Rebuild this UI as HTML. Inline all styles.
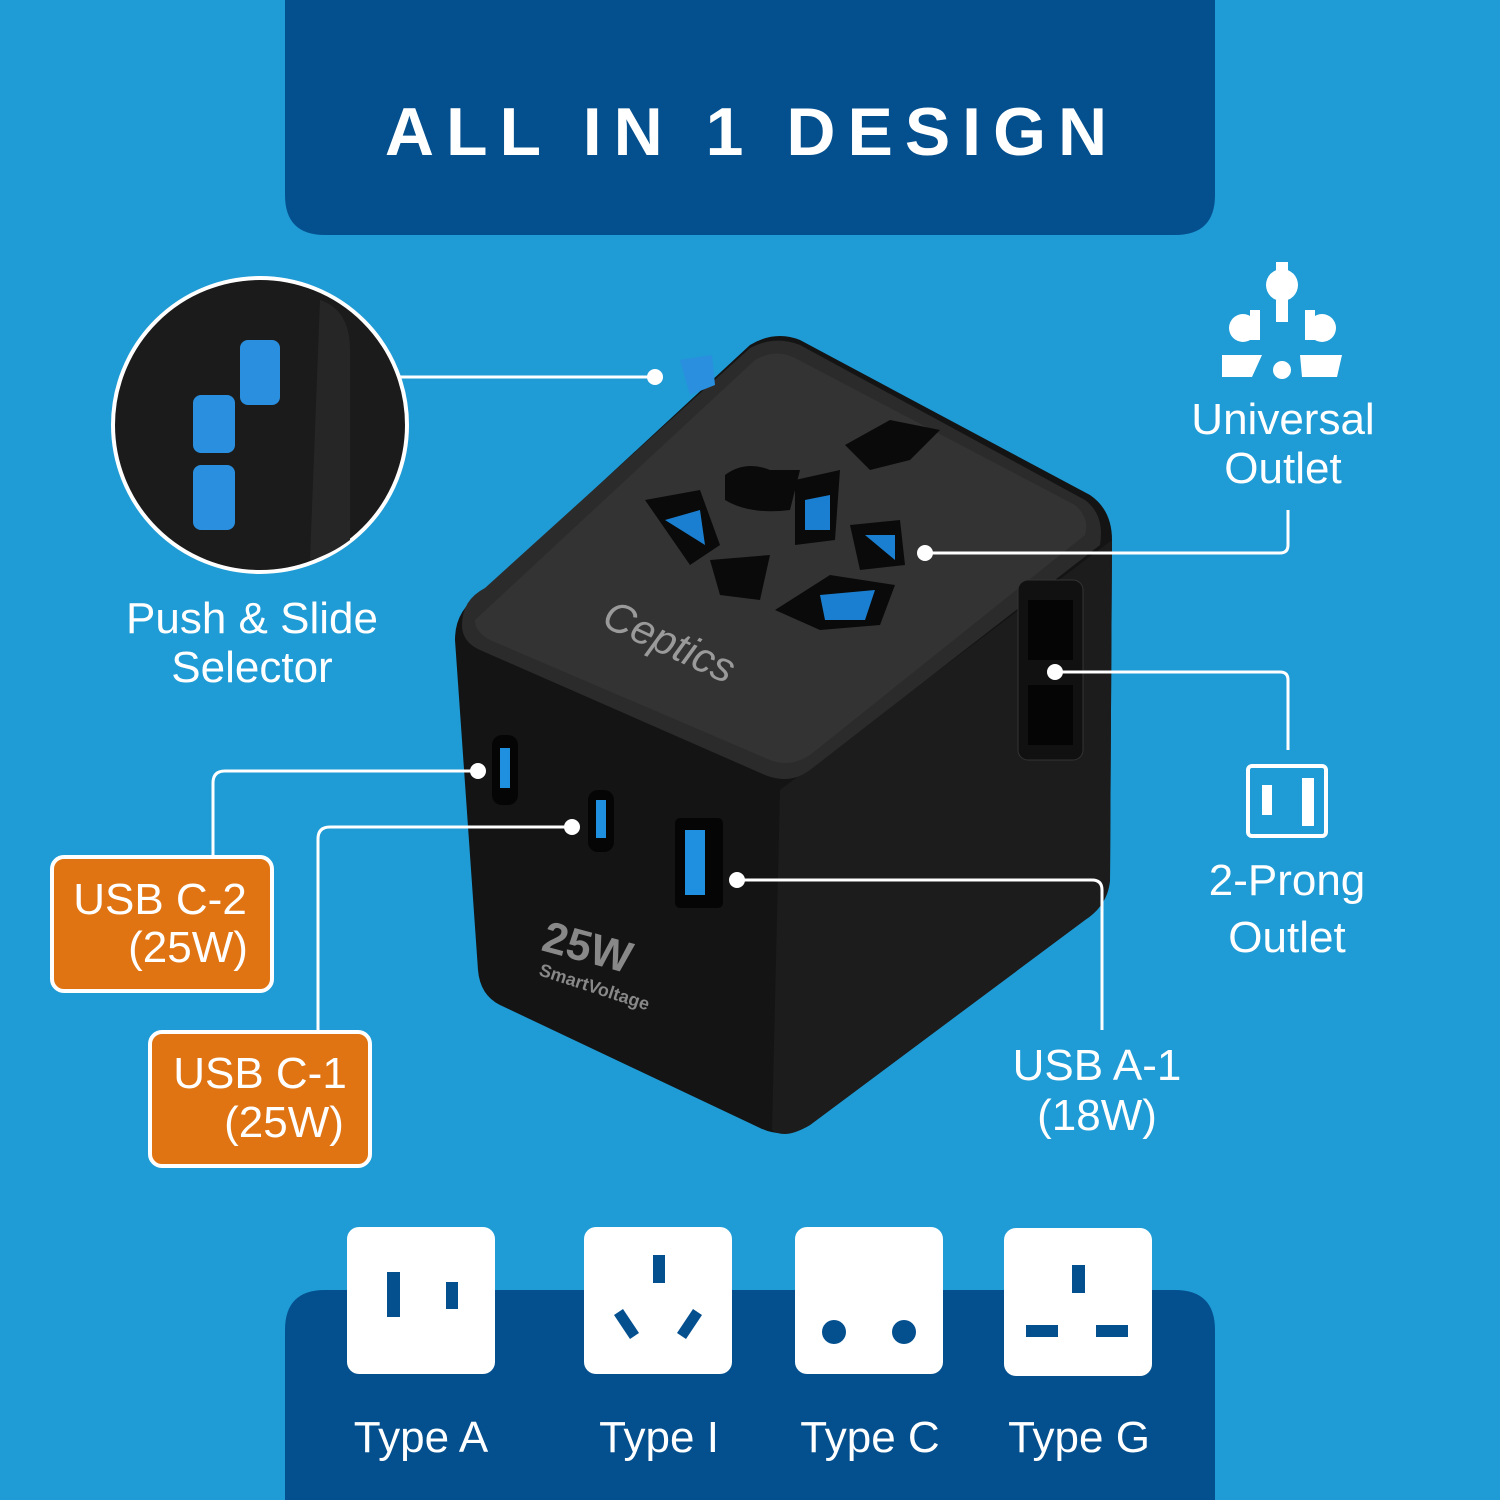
<!DOCTYPE html>
<html><head><meta charset="utf-8"><style>
body{margin:0;width:1500px;height:1500px;overflow:hidden;background:#1f9bd5;font-family:"Liberation Sans","DejaVu Sans",sans-serif}
svg{position:absolute;left:0;top:0}
</style></head><body>
<svg width="1500" height="1500" viewBox="0 0 1500 1500">
<rect width="1500" height="1500" fill="#1f9bd5"/>
<path d="M285 0H1215V195Q1215 235 1175 235H325Q285 235 285 195Z" fill="#04508f"/>
<text x="752" y="155" text-anchor="middle" font-size="68" font-weight="bold" fill="#fff" letter-spacing="12">ALL IN 1 DESIGN</text>
<path d="M285 1500V1330Q285 1290 325 1290H1175Q1215 1290 1215 1330V1500Z" fill="#04508f"/>

<!-- device -->
<path d="M455 640 Q455 610 480 595 L750 345 Q775 330 800 340 L1090 495 Q1112 510 1112 540 L1110 880 Q1108 905 1085 920 L810 1125 Q785 1140 760 1128 L500 1005 Q480 995 478 970 Z" fill="#141414"/>
<path d="M1112 540 L1110 880 Q1108 905 1085 920 L810 1125 Q785 1140 772 1130 L780 790 Z" fill="#1c1c1c"/>
<path d="M462 625 Q462 600 485 588 L750 348 Q775 335 800 345 L1085 500 Q1105 515 1100 545 L810 770 Q790 785 765 775 L480 650 Q462 642 462 625Z" fill="#2b2b2b"/>
<path d="M475 620 L755 360 Q775 348 795 358 L1075 505 Q1090 518 1085 535 L810 755 Q790 768 770 760 L490 640 Q475 632 475 620Z" fill="#333"/>
<path d="M645 500 L700 490 L720 545 L690 565Z" fill="#0a0a0a"/>
<path d="M725 475 Q745 460 770 470 L800 470 L790 510 Q750 515 725 500Z" fill="#0a0a0a"/>
<path d="M845 445 L890 420 L940 430 L910 460 L870 470Z" fill="#0a0a0a"/>
<path d="M795 480 L840 470 L835 540 L795 545Z" fill="#0a0a0a"/>
<path d="M850 525 L900 520 L905 565 L860 570Z" fill="#0a0a0a"/>
<path d="M710 560 L770 555 L760 600 L720 595Z" fill="#0a0a0a"/>
<path d="M775 610 L830 575 L895 585 L880 625 L820 630Z" fill="#0a0a0a"/>
<path d="M665 520 L700 510 L705 545Z M805 500 L830 495 L830 530 L805 530Z M820 595 L875 590 L865 620 L825 620Z M865 535 L895 535 L895 560Z" fill="#1a7fd0"/>
<text x="600" y="625" font-size="42" fill="#9a9a9a" font-style="italic" transform="rotate(25 600 625)">Ceptics</text>
<path d="M680 360 L712 355 L715 385 L690 395 Z" fill="#2a8fdf"/>
<rect x="1018" y="580" width="65" height="180" rx="10" fill="#111" stroke="#333"/>
<rect x="1028" y="600" width="45" height="60" fill="#050505"/>
<rect x="1028" y="685" width="45" height="60" fill="#050505"/>
<rect x="492" y="735" width="26" height="70" rx="10" fill="#050505"/><rect x="500" y="748" width="10" height="40" fill="#1f8fe0"/>
<rect x="588" y="790" width="26" height="62" rx="10" fill="#050505"/><rect x="596" y="800" width="10" height="38" fill="#1f8fe0"/>
<rect x="675" y="818" width="48" height="90" rx="5" fill="#050505"/><rect x="685" y="830" width="20" height="65" fill="#1f8fe0"/>
<text x="540" y="950" font-size="44" font-weight="bold" fill="#888" transform="rotate(15 540 950)">25W</text>
<text x="538" y="975" font-size="18" font-weight="bold" fill="#888" transform="rotate(18 538 975)">SmartVoltage</text>

<circle cx="260" cy="425" r="147" fill="#1b1b1b" stroke="#fff" stroke-width="4"/>
<path d="M320 300 Q350 310 350 350 L350 540 Q330 555 310 560" fill="#262626"/>
<rect x="240" y="340" width="40" height="65" rx="8" fill="#2a8fdf"/>
<rect x="193" y="395" width="42" height="58" rx="8" fill="#2a8fdf"/>
<rect x="193" y="465" width="42" height="65" rx="8" fill="#2a8fdf"/>

<g fill="none" stroke="#fff" stroke-width="3">
<path d="M400 377H655"/>
<path d="M925 553H1280Q1288 553 1288 545V510"/>
<path d="M1055 672H1280Q1288 672 1288 680V750"/>
<path d="M478 771H225Q213 771 213 783V855"/>
<path d="M572 827H330Q318 827 318 839V1030"/>
<path d="M737 880H1092Q1102 880 1102 890V1030"/>
</g>
<g fill="#fff"><circle cx="655" cy="377" r="8"/><circle cx="925" cy="553" r="8"/><circle cx="1055" cy="672" r="8"/><circle cx="478" cy="771" r="8"/><circle cx="572" cy="827" r="8"/><circle cx="737" cy="880" r="8"/></g>

<g font-size="44" fill="#fff" text-anchor="middle">
<text x="252" y="633">Push &amp; Slide</text><text x="252" y="682">Selector</text>
<text x="1283" y="434">Universal</text><text x="1283" y="483">Outlet</text>
<text x="1287" y="895">2-Prong</text><text x="1287" y="952">Outlet</text>
<text x="1097" y="1080">USB A-1</text><text x="1097" y="1130">(18W)</text>
</g>
<g fill="#fff"><circle cx="1282" cy="285" r="16"/><rect x="1276" y="262" width="12" height="60"/><circle cx="1243" cy="328" r="14"/><rect x="1250" y="310" width="10" height="30"/><circle cx="1322" cy="328" r="14"/><rect x="1305" y="310" width="10" height="30"/><path d="M1222 355h40l-10 22h-30z M1300 355h42l-5 22h-35z"/><circle cx="1282" cy="370" r="9"/></g>
<rect x="1248" y="766" width="78" height="70" rx="4" fill="none" stroke="#fff" stroke-width="4"/>
<rect x="1262" y="785" width="10" height="30" fill="#fff"/><rect x="1302" y="778" width="12" height="48" fill="#fff"/>

<rect x="52" y="857" width="220" height="134" rx="12" fill="#e07412" stroke="#fff" stroke-width="4"/>
<text x="160" y="914" font-size="44" fill="#fff" text-anchor="middle">USB C-2</text><text x="188" y="962" font-size="44" fill="#fff" text-anchor="middle">(25W)</text>
<rect x="150" y="1032" width="220" height="134" rx="12" fill="#e07412" stroke="#fff" stroke-width="4"/>
<text x="260" y="1088" font-size="44" fill="#fff" text-anchor="middle">USB C-1</text><text x="284" y="1137" font-size="44" fill="#fff" text-anchor="middle">(25W)</text>

<g fill="#fff"><rect x="347" y="1227" width="148" height="147" rx="12"/><rect x="584" y="1227" width="148" height="147" rx="12"/><rect x="795" y="1227" width="148" height="147" rx="12"/><rect x="1004" y="1228" width="148" height="148" rx="12"/></g>
<g fill="#04508f">
<rect x="387" y="1272" width="13" height="45"/><rect x="446" y="1282" width="12" height="27"/>
<rect x="653" y="1255" width="12" height="28"/><path d="M614 1315l9-6 16 24-9 6z M702 1315l-9-6-16 24 9 6z"/>
<circle cx="834" cy="1332" r="12"/><circle cx="904" cy="1332" r="12"/>
<rect x="1072" y="1265" width="13" height="28"/><rect x="1026" y="1325" width="32" height="12"/><rect x="1096" y="1325" width="32" height="12"/>
</g>
<g font-size="44" fill="#fff" text-anchor="middle">
<text x="421" y="1452">Type A</text><text x="659" y="1452">Type I</text><text x="870" y="1452">Type C</text><text x="1079" y="1452">Type G</text>
</g>
</svg>
</body></html>
